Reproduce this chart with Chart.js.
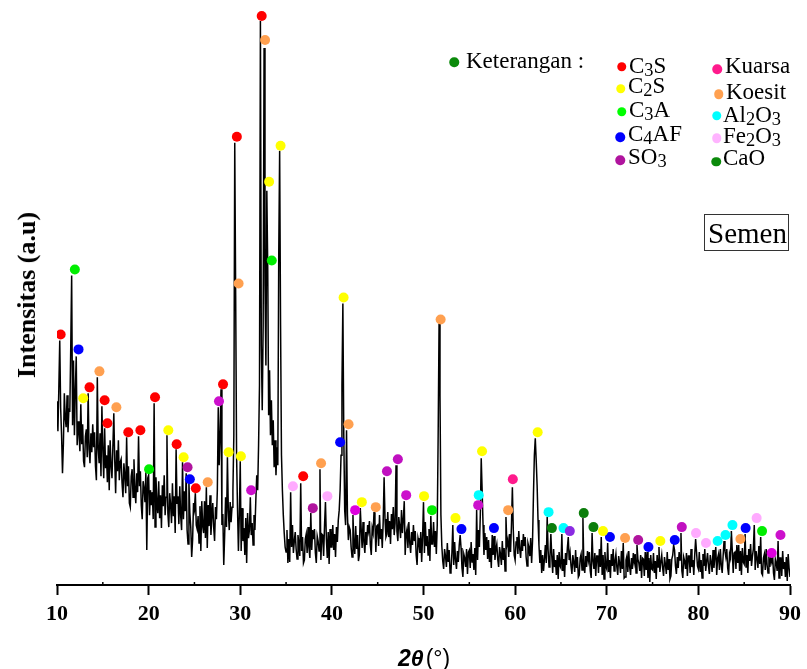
<!DOCTYPE html>
<html>
<head>
<meta charset="utf-8">
<script src="https://cdn.jsdelivr.net/npm/chart.js@4.4.0/dist/chart.umd.min.js"></script>
<style>
  body { margin: 0; background: #fff; }
  #wrap { position: relative; width: 807px; height: 669px; overflow: hidden; font-family: "Liberation Serif", "Times New Roman", serif; color: #000; }
  #wrap canvas { position: absolute; left: 0; top: 0; }
  .t { position: absolute; font-size: 23px; line-height: 23px; white-space: nowrap; }
  .t sub { font-size: 0.8em; vertical-align: -0.18em; line-height: 0; }
  .dot { position: absolute; width: 9.5px; height: 9.5px; border-radius: 50%; transform: translate(-50%, -50%); }
  #ytitle { position: absolute; left: 27px; top: 295px; transform: translate(-50%, -50%) rotate(-90deg); font-size: 26px; line-height: 26px; font-weight: bold; white-space: nowrap; }
  #xtitle { position: absolute; left: 398px; top: 647px; font-family: "Liberation Sans", Arial, sans-serif; font-size: 23px; line-height: 23px; white-space: nowrap; }
  #xtitle b { font-style: italic; }
  #semen { position: absolute; left: 704px; top: 214px; width: 83px; height: 35px; border: 1px solid #333; }
  #semenText { position: absolute; left: 708px; top: 219px; font-size: 29px; line-height: 29px; }
</style>
</head>
<body>
<div id="wrap">
  <canvas id="xrd" width="807" height="669"></canvas>
  <div id="ytitle">Intensitas (a.u)</div>
  <div id="xtitle"><b>2θ</b><span style="margin-left:2px">(°)</span></div>

  <span class="dot" style="left:454px;top:62px;background:#0b8a0b"></span>
  <div class="t" style="left:466px;top:49px">Keterangan :</div>

  <span class="dot" style="left:621.7px;top:66.7px;background:#ff0000"></span>
  <div class="t" style="left:629px;top:53.5px">C<sub>3</sub>S</div>
  <span class="dot" style="left:620.7px;top:88.7px;background:#ffff00"></span>
  <div class="t" style="left:628px;top:74px">C<sub>2</sub>S</div>
  <span class="dot" style="left:621.7px;top:111.7px;background:#00ff00"></span>
  <div class="t" style="left:629px;top:98px">C<sub>3</sub>A</div>
  <span class="dot" style="left:620px;top:137.3px;background:#0000ff"></span>
  <div class="t" style="left:628px;top:121.7px">C<sub>4</sub>AF</div>
  <span class="dot" style="left:620px;top:160px;background:#b0149e"></span>
  <div class="t" style="left:628px;top:145px">SO<sub>3</sub></div>

  <span class="dot" style="left:717.3px;top:69px;background:#ff1a8c"></span>
  <div class="t" style="left:725px;top:54px">Kuarsa</div>
  <span class="dot" style="left:718.7px;top:94px;background:#ffa050"></span>
  <div class="t" style="left:726px;top:80px">Koesit</div>
  <span class="dot" style="left:716.7px;top:115.7px;background:#00ffff"></span>
  <div class="t" style="left:723px;top:102.5px">Al<sub>2</sub>O<sub>3</sub></div>
  <span class="dot" style="left:716.7px;top:138.3px;background:#ffb4ff"></span>
  <div class="t" style="left:723px;top:124px">Fe<sub>2</sub>O<sub>3</sub></div>
  <span class="dot" style="left:716px;top:161.7px;background:#0b8a0b"></span>
  <div class="t" style="left:723px;top:145.7px">CaO</div>

  <div id="semen"></div>
  <div id="semenText">Semen</div>
</div>
<script>
// XRD scan, one value every 0.1 deg (arbitrary units), split by range
const scan10to30 = [
  184,154,197,245,177,150,112,142,192,167,
  158,190,153,176,175,238,310,160,225,150,
  195,229,140,164,152,134,181,141,161,124,
  118,149,156,128,192,136,122,152,133,161,
  138,153,119,105,208,136,122,152,109,179,
  137,107,157,117,130,103,140,95,145,120,
  107,139,172,125,92,135,114,145,105,123,
  126,102,88,122,110,92,148,99,119,82,
  78,109,116,88,126,96,82,112,93,149,
  99,114,80,66,104,97,83,113,35,107,
  110,70,95,80,93,66,182,58,108,83,
  72,104,67,90,57,100,79,110,70,88,
  150,72,58,92,80,62,102,69,89,52,
  136,82,89,61,99,69,55,123,66,94,
  74,112,55,41,102,72,58,28,45,82,
  76,92,60,56,69,42,79,34,84,59,
  52,84,47,98,37,80,59,90,50,68,
  82,58,44,78,66,95,178,120,150,196,
  60,71,20,50,88,58,128,74,55,83,
  63,78,95,150,443,290,130,77,34,71
];
const scan30to50 = [
  124,34,77,44,57,30,67,22,72,47,
  55,88,50,62,40,70,55,85,110,95,
  140,200,565,240,175,260,538,300,220,395,
  318,170,215,150,185,140,165,118,145,110,
  138,120,330,435,260,130,95,70,52,38,
  33,55,22,46,23,93,38,60,32,44,
  53,36,26,50,41,29,102,34,48,22,
  25,46,51,32,58,37,27,72,35,55,
  46,56,32,22,49,44,34,116,25,51,
  50,29,60,83,46,27,53,21,56,38,
  38,60,35,51,28,58,43,65,75,95,
  130,200,282,150,75,60,155,70,45,58,
  55,38,28,70,43,31,59,36,50,24,
  30,77,56,37,63,42,32,53,40,60,
  54,64,40,30,57,52,73,63,33,59,
  60,39,70,46,56,37,63,108,66,48,
  51,73,48,64,41,71,56,78,50,62,
  120,54,44,68,59,47,75,52,66,84,
  30,51,56,37,63,42,32,53,40,60,
  44,54,30,20,47,42,32,53,23,49
];
const scan50to70 = [
  83,32,63,39,49,30,56,24,69,41,
  41,63,38,54,31,60,150,262,190,70,
  39,24,16,36,29,18,42,23,35,12,
  14,32,60,20,43,25,16,34,23,40,
  50,37,17,8,31,27,18,36,11,33,
  35,17,43,23,31,15,37,10,75,25,
  55,38,70,127,95,60,30,52,35,48,
  26,45,23,37,17,50,30,49,25,36,
  41,26,18,38,31,20,44,25,37,14,
  68,40,45,28,51,33,60,98,55,30,
  25,43,48,31,54,36,27,45,34,51,
  39,48,28,19,42,38,29,47,22,44,
  90,130,147,125,100,65,40,22,35,12,
  30,14,26,40,22,68,35,18,28,51,
  29,12,36,18,25,10,30,6,33,19,
  17,51,14,26,8,32,20,37,48,25,
  32,19,11,30,23,13,35,17,28,8,
  10,27,31,15,67,20,12,29,18,34,
  25,33,14,7,52,24,16,32,9,29,
  29,12,36,18,48,10,30,6,33,19
];
const scan70to90 = [
  16,42,13,25,7,31,19,36,14,24,
  31,18,10,29,22,12,34,16,42,7,
  8,25,29,13,34,18,10,27,16,32,
  23,31,12,40,26,22,14,30,7,27,
  26,9,33,15,33,7,27,3,30,16,
  15,32,12,24,6,30,18,38,13,23,
  30,17,9,28,21,11,33,15,26,6,
  9,26,30,40,35,19,11,28,17,33,
  25,52,14,7,28,24,16,32,9,29,
  29,12,36,18,25,10,30,46,33,19,
  16,33,13,25,7,31,19,36,14,24,
  32,19,11,30,23,13,35,17,28,38,
  10,27,31,15,36,20,12,29,44,34,
  28,36,17,10,31,27,54,35,12,32,
  33,16,40,22,40,14,34,10,37,23,
  21,51,18,30,12,36,24,41,19,29,
  36,60,15,34,27,17,39,21,48,12,
  10,27,31,15,36,20,12,29,18,27,
  23,31,12,5,26,22,14,44,7,27,
  27,9,34,16,23,8,28,4,31,17,
  8
];

// phase markers: 2theta position and marker height
const c3sX = [10.4, 13.55, 15.2, 15.5, 17.78, 19.1, 20.7, 23.06, 25.15, 28.12, 29.63, 32.34, 36.87];
const c3sY = [251, 198, 185, 162, 153, 155, 188, 141, 97, 201, 449, 570, 109];
const c2sX = [12.86, 22.15, 23.82, 28.73, 30.07, 33.15, 34.4, 41.28, 43.27, 50.06, 53.49, 56.39, 62.46, 69.59, 75.85];
const c2sY = [187, 155, 128, 133, 129, 404, 440, 288, 83, 89, 67, 134, 153, 54, 44];
const c3aX = [11.95, 20.05, 33.44, 50.93, 86.95];
const c3aY = [316, 116, 325, 75, 54];
const c4afX = [12.35, 24.5, 40.9, 54.14, 57.69, 70.35, 74.55, 77.42, 85.16];
const c4afY = [236, 106, 143, 56, 57, 48, 38, 45, 57];
const so3X = [24.25, 27.68, 31.19, 37.92, 42.54, 46.01, 47.2, 48.11, 55.97, 65.97, 73.43, 78.19, 88.0, 88.96];
const so3Y = [118, 184, 95, 77, 75, 114, 126, 90, 80, 54, 45, 58, 32, 50];
const kuarsaX = [59.75];
const kuarsaY = [106];
const koesitX = [14.63, 16.48, 26.45, 29.82, 32.71, 38.82, 41.82, 44.79, 51.87, 59.24, 72.0, 84.59];
const koesitY = [214, 178, 103, 302, 546, 122, 161, 78, 266, 75, 47, 46];
const al2o3X = [56.03, 63.65, 65.28, 82.1, 82.96, 83.72];
const al2o3Y = [90, 73, 57, 44, 50, 60];
const fe2o3X = [35.75, 39.51, 79.74, 80.83, 86.36];
const fe2o3Y = [99, 89, 52, 42, 67];
const caoX = [64.01, 67.49, 68.55];
const caoY = [57, 72, 58];

const xTicks = [10, 20, 30, 40, 50, 60, 70, 80, 90];
const minorTicks = [15, 25, 35, 45, 55, 65, 75, 85];

const scanPoints = (start, vals) => vals.map((y, i) => ({ x: start + i / 10, y }));
const markPoints = (xs, ys) => xs.map((x, i) => ({ x, y: ys[i] }));

const so3Colors = ['#b0149e', '#cc10cc', '#cc10cc', '#b0149e', '#dd00dd', '#c010c0', '#c010c0', '#cc10cc',
  '#cc10cc', '#8a2be2', '#b0149e', '#c010c0', '#dd00dd', '#cc10cc'];

const phases = [
  { xs: c3sX, ys: c3sY, color: '#ff0000' },
  { xs: c2sX, ys: c2sY, color: '#ffff00' },
  { xs: c3aX, ys: c3aY, color: '#00ee00' },
  { xs: c4afX, ys: c4afY, color: '#0000ff' },
  { xs: so3X, ys: so3Y, color: so3Colors },
  { xs: kuarsaX, ys: kuarsaY, color: '#ff1a8c' },
  { xs: koesitX, ys: koesitY, color: '#ffa050' },
  { xs: al2o3X, ys: al2o3Y, color: '#00ffff' },
  { xs: fe2o3X, ys: fe2o3Y, color: '#ffaaff' },
  { xs: caoX, ys: caoY, color: '#0b7d0b' }
];

const datasets = phases.map(p => ({
  data: markPoints(p.xs, p.ys),
  showLine: false,
  pointRadius: 5,
  pointBorderWidth: 0,
  pointBackgroundColor: p.color,
  pointBorderColor: p.color,
  order: 1
}));

datasets.push({
  data: [
    ...scanPoints(10, scan10to30),
    ...scanPoints(30, scan30to50),
    ...scanPoints(50, scan50to70),
    ...scanPoints(70, scan70to90)
  ],
  showLine: true,
  borderColor: '#000',
  borderWidth: 1.5,
  pointRadius: 0,
  tension: 0,
  order: 2
});

// short minor ticks on the 2theta axis
const minorTickPlugin = {
  id: 'minorTicks',
  afterDraw(chart) {
    const sx = chart.scales.x;
    const ctx = chart.ctx;
    const y0 = chart.chartArea.bottom;
    ctx.save();
    ctx.strokeStyle = '#000';
    ctx.lineWidth = 1.5;
    minorTicks.forEach(v => {
      const px = sx.getPixelForValue(v);
      ctx.beginPath();
      ctx.moveTo(px, y0 + 1);
      ctx.lineTo(px, y0 - 3);
      ctx.stroke();
    });
    ctx.restore();
  }
};

new Chart(document.getElementById('xrd'), {
  type: 'scatter',
  data: { datasets },
  options: {
    responsive: false,
    animation: false,
    devicePixelRatio: 1,
    events: [],
    layout: { padding: { left: 57, right: 12, top: 0, bottom: 0 } },
    plugins: { legend: { display: false }, tooltip: { enabled: false } },
    scales: {
      x: {
        type: 'linear',
        min: 10,
        max: 90,
        afterBuildTicks: s => { s.ticks = xTicks.map(v => ({ value: v })); },
        afterFit: s => { s.height = 84; },
        ticks: {
          color: '#000',
          padding: 6,
          maxRotation: 0,
          autoSkip: false,
          font: { family: 'Liberation Serif', size: 22, weight: 'bold' }
        },
        grid: { drawOnChartArea: false, drawTicks: true, tickLength: 10, tickWidth: 2, tickColor: '#000' },
        border: { display: true, color: '#000', width: 2 }
      },
      y: { display: false, min: 0, max: 581 }
    }
  },
  plugins: [minorTickPlugin]
});
</script>
</body>
</html>
